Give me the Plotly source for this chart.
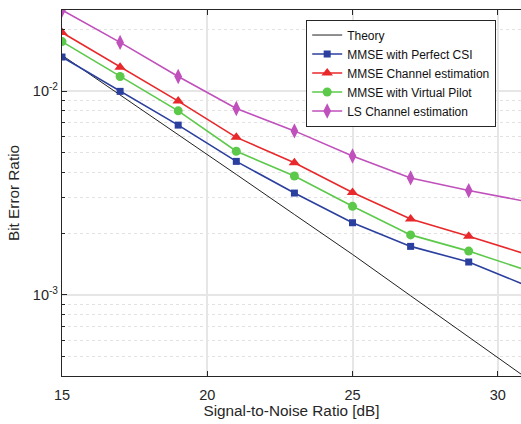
import plotly.graph_objects as go

# SNR grid (dB)
snr_db = [15, 17, 19, 21, 23, 25, 27, 29, 31]

# Bit error ratio curves
ber_theory = [0.0150, 0.0096, 0.0061, 0.0039, 0.00248, 0.00158, 0.00099, 0.00062, 0.00039]
ber_perfect_csi = [0.0147, 0.00997, 0.00681, 0.00452, 0.00316, 0.00226, 0.00173, 0.00145, 0.00111]
ber_mmse_est = [0.0194, 0.0131, 0.00893, 0.00593, 0.00445, 0.00318, 0.00236, 0.00194, 0.00158]
ber_virtual_pilot = [0.0175, 0.0118, 0.0080, 0.00507, 0.00383, 0.00272, 0.00197, 0.00164, 0.00132]
ber_ls_est = [0.0250, 0.01734, 0.0118, 0.00822, 0.00638, 0.00480, 0.00375, 0.00325, 0.00287]

names = ["Theory", "MMSE with Perfect CSI", "MMSE Channel estimation",
         "MMSE with Virtual Pilot", "LS Channel estimation"]

FONT = "Liberation Sans, Arial, sans-serif"
AX = "#262626"

fig = go.Figure()

fig.add_trace(go.Scatter(x=snr_db, y=ber_theory, name=names[0], mode="lines",
                         line=dict(color="#202020", width=1)))

styles = [
    (ber_perfect_csi, "#2B3F9E", "square", 7),
    (ber_mmse_est, "#E8282A", "triangle-up", 10),
    (ber_virtual_pilot, "#5CC94A", "circle", 9),
    (ber_ls_est, "#C050BC", "diamond-tall", 11),
]
for (vals, col, sym, sz), nm in zip(styles, names[1:]):
    fig.add_trace(go.Scatter(
        x=snr_db, y=vals, name=nm, mode="lines+markers",
        line=dict(color=col, width=1.6),
        marker=dict(symbol=sym, size=sz, color=col, line=dict(width=0)),
    ))

# invisible trace carrying the top axis
fig.add_trace(go.Scatter(x=[15], y=[1e-2], xaxis="x2", mode="markers",
                         marker=dict(opacity=0), showlegend=False, hoverinfo="skip"))

minor_vals = [m * 10.0 ** e for e in (-4, -3, -2) for m in range(2, 10)]

fig.update_layout(
    width=521, height=424,
    margin=dict(l=62, r=0, t=10, b=48),
    paper_bgcolor="white", plot_bgcolor="white",
    font=dict(family=FONT, size=14, color=AX),
    showlegend=True,
    legend=dict(
        x=0.532, y=0.974, xanchor="left", yanchor="top",
        bgcolor="white", bordercolor=AX, borderwidth=1,
        font=dict(family=FONT, size=12, color="#111111"),
        tracegroupgap=0, itemwidth=30,
    ),
    xaxis=dict(
        range=[15, 30.8], tickvals=[15, 20, 25, 30],
        showline=True, linecolor=AX, linewidth=1.2,
        ticks="inside", ticklen=5, tickcolor=AX,
        showgrid=True, gridcolor="#E6E6E6", gridwidth=1.5,
        zeroline=False, ticklabelstandoff=5,
        title=dict(text="Signal-to-Noise Ratio [dB]", font=dict(size=15.3), standoff=3),
        tickfont=dict(size=14.5),
    ),
    xaxis2=dict(
        overlaying="x", side="top", matches="x", range=[15, 30.8],
        tickvals=[15, 20, 25, 30], showticklabels=False,
        showline=True, linecolor=AX, linewidth=1.2,
        ticks="inside", ticklen=5, tickcolor=AX, showgrid=False, zeroline=False,
    ),
    yaxis=dict(
        type="log", range=[-3.398, -1.602],
        tickvals=[1e-3, 1e-2], ticktext=["10<sup>-3</sup>", "10<sup>-2</sup>"],
        showline=True, linecolor=AX, linewidth=1.2,
        ticks="inside", ticklen=5, tickcolor=AX,
        showgrid=True, gridcolor="#E6E6E6", gridwidth=2,
        zeroline=False,
        minor=dict(tickmode="array", tickvals=minor_vals, ticks="inside", ticklen=3,
                   tickcolor=AX, showgrid=True, gridcolor="#E2E2E2", griddash="dot",
                   gridwidth=1),
        title=dict(text="Bit Error Ratio", font=dict(size=15.3), standoff=9),
        tickfont=dict(size=14.5),
    ),
)

fig.write_html("out.html")
